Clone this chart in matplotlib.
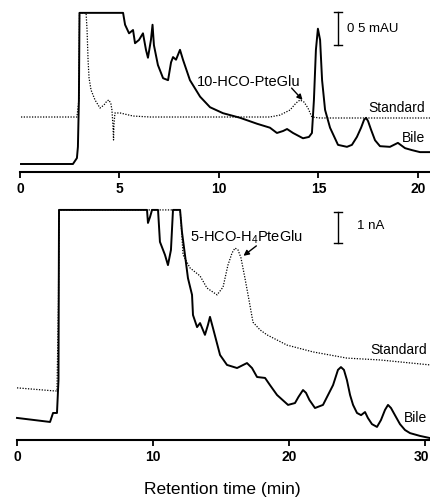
import matplotlib
matplotlib.use("Agg")
import matplotlib.pyplot as plt
import matplotlib.transforms as mtransforms
import numpy as np

plt.rcParams['font.family'] = ['Liberation Sans', 'DejaVu Sans']
plt.rcParams['mathtext.fontset'] = 'custom'
plt.rcParams['mathtext.rm'] = 'Liberation Sans'
plt.rcParams['mathtext.it'] = 'Liberation Sans'

# ---------------- Top panel (UV, mAU) ----------------
top_bile_t = [0.05, 2.66, 2.86, 2.91, 2.96, 2.99, 5.18, 5.28, 5.48, 5.68, 5.78, 5.98, 6.18,
              6.33, 6.43, 6.58, 6.66, 6.73, 6.93, 7.19, 7.44, 7.59, 7.69, 7.84, 8.04, 8.19,
              8.54, 9.05, 9.55, 10.20, 11.06, 11.91, 12.56, 12.91, 13.22, 13.42, 13.72,
              14.22, 14.52, 14.67, 14.77, 14.87, 14.97, 15.08, 15.18, 15.33, 15.58, 15.98,
              16.43, 16.68, 16.93, 17.14, 17.29, 17.39, 17.49, 17.64, 17.84, 18.09, 18.59,
              18.99, 19.35, 19.70, 20.10, 20.70]
top_bile_v = [0.0, 0.0, 0.09, 0.26, 0.97, 2.29, 2.29, 2.11, 1.98, 2.03, 1.83, 1.88, 1.98,
              1.73, 1.61, 1.88, 2.11, 1.80, 1.50, 1.30, 1.27, 1.54, 1.62, 1.58, 1.73, 1.58,
              1.27, 1.02, 0.86, 0.77, 0.70, 0.61, 0.55, 0.47, 0.50, 0.53, 0.47,
              0.39, 0.41, 0.47, 0.97, 1.73, 2.05, 1.88, 1.27, 0.82, 0.55, 0.29,
              0.26, 0.29, 0.41, 0.55, 0.67, 0.70, 0.65, 0.52, 0.36, 0.27, 0.26,
              0.32, 0.24, 0.21, 0.18, 0.18]

top_std_t = [0.05, 2.86, 2.96, 2.99, 3.32, 3.37, 3.42, 3.47, 3.57, 3.77, 4.02, 4.22, 4.37,
             4.47, 4.57, 4.62, 4.67, 4.70, 4.72, 4.77, 5.03, 5.68, 6.53, 12.56, 13.07,
             13.57, 13.87, 14.07, 14.27, 14.47, 14.67, 15.08, 20.60]
top_std_v = [0.712, 0.712, 0.97, 2.29, 2.29, 2.03, 1.576, 1.303, 1.121, 0.97, 0.848, 0.894,
             0.955, 0.97, 0.909, 0.818, 0.591, 0.364, 0.591, 0.773, 0.773, 0.727, 0.712,
             0.712, 0.742, 0.818, 0.924, 0.97, 0.939, 0.848, 0.712, 0.697, 0.697]

top_ticks = [0, 5, 10, 15, 20]

# ---------------- Bottom panel (EC, nA) ----------------
bot_bile_t = [0.0, 2.43, 2.65, 2.94, 3.05, 3.09, 9.56, 9.63, 9.78, 9.93, 10.37, 10.51,
              10.88, 11.10, 11.32, 11.47, 11.99, 12.13, 12.35, 12.57, 12.87, 12.94, 13.24,
              13.46, 13.82, 14.04, 14.19, 14.41, 14.93, 15.44, 16.18, 16.91, 17.28, 17.65,
              18.24, 18.60, 19.12, 19.93, 20.44, 20.70, 21.03, 21.25, 21.50, 21.91, 22.50,
              23.24, 23.60, 23.82, 24.04, 24.26, 24.49, 24.71, 25.00, 25.30, 25.59, 25.80,
              26.10, 26.47, 26.76, 27.06, 27.28, 27.50, 27.79, 28.16, 28.53, 28.90, 29.63,
              30.37]
bot_bile_v = [-0.03, -0.16, 0.13, 0.13, 1.19, 6.68, 6.68, 6.26, 6.45, 6.68, 6.68, 5.65,
              5.23, 4.90, 5.39, 6.68, 6.68, 5.97, 5.23, 4.48, 3.94, 3.29, 2.90,
              3.03, 2.65, 2.97, 3.23, 2.87, 2.00, 1.68, 1.58, 1.74, 1.58, 1.29,
              1.26, 1.03, 0.71, 0.39, 0.45, 0.65, 0.87, 0.78, 0.55, 0.29, 0.39,
              1.03, 1.52, 1.61, 1.52, 1.19, 0.71, 0.39, 0.13, 0.06, 0.16, -0.03,
              -0.23, -0.32, -0.10, 0.23, 0.39, 0.29, 0.06, -0.23, -0.42, -0.52, -0.61,
              -0.68]

bot_std_t = [0.0, 2.79, 2.94, 3.05, 3.09, 11.99, 12.06, 12.21, 12.72, 13.46, 13.97, 14.71,
             15.15, 15.51, 15.81, 16.03, 16.25, 16.47, 16.76, 17.06, 17.35, 17.87, 18.38,
             19.85, 21.76, 24.26, 26.69, 30.37]
bot_std_v = [0.94, 0.84, 0.84, 3.77, 6.68, 6.68, 6.29, 5.23, 4.81, 4.55, 4.16, 3.94,
             4.19, 4.90, 5.29, 5.45, 5.39, 5.13, 4.48, 3.77, 3.06, 2.81, 2.65,
             2.32, 2.10, 1.90, 1.84, 1.68]

bot_ticks = [0, 10, 20, 30]

W, H = 431, 498
fig = plt.figure(figsize=(W / 100, H / 100), dpi=100)


def fx(px):
    return px / W


def fy(py):
    return 1 - py / H


# Top axes: t=0 at px 20, spine at py 172, top at py 5
ax1 = fig.add_axes([fx(20), fy(172), fx(431 - 20), (172 - 5) / H])
ax1.set_xlim(0, (431 - 20) / 19.9)
ax1.set_ylim((164 - 172) / 66, (164 - 5) / 66)

# Bottom axes: t=0 at px 17, spine at py 440, top at py 200
ax2 = fig.add_axes([fx(17), fy(440), fx(431 - 17), (440 - 200) / H])
ax2.set_xlim(0, (431 - 17) / 13.6)
ax2.set_ylim((417 - 440) / 31, (417 - 200) / 31)

for ax, ticks in ((ax1, top_ticks), (ax2, bot_ticks)):
    for s in ('top', 'right', 'left'):
        ax.spines[s].set_visible(False)
    ax.spines['bottom'].set_linewidth(1.5)
    ax.set_yticks([])
    ax.set_xticks(ticks)
    ax.set_xticklabels([str(t) for t in ticks], fontweight='bold', fontsize=10)
    ax.tick_params(axis='x', direction='out', length=4.5, width=1.3, pad=2.5)
    ax.patch.set_visible(False)

# keep the last bottom tick label ("30") inside the figure
last = ax2.get_xticklabels()[-1]
last.set_transform(last.get_transform() +
                   mtransforms.ScaledTranslation(-4 / 100, 0, fig.dpi_scale_trans))

# Top traces
ax1.plot(top_std_t, top_std_v, color='black', lw=0.9, ls=(0, (1, 1.2)), clip_on=False)
ax1.plot(top_bile_t, top_bile_v, color='black', lw=1.4, clip_on=False,
         solid_joinstyle='round')

# Bottom traces
ax2.plot(bot_std_t, bot_std_v, color='black', lw=0.9, ls=(0, (1, 1.2)), clip_on=False)
ax2.plot(bot_bile_t, bot_bile_v, color='black', lw=1.4, clip_on=False,
         solid_joinstyle='round')

# Scale bars
def scale_bar(ax, x, y0, y1, half):
    ax.plot([x, x], [y0, y1], color='black', lw=1.0)
    ax.plot([x - half, x + half], [y0, y0], color='black', lw=1.0)
    ax.plot([x - half, x + half], [y1, y1], color='black', lw=1.0)

scale_bar(ax1, 15.98, 1.80, 2.30, 0.2)
ax1.text(16.43, 2.05, '0 5 mAU', fontsize=9.5, ha='left', va='center')

scale_bar(ax2, 23.6, 5.61, 6.61, 0.29)
ax2.text(25.0, 6.16, '1 nA', fontsize=9.5, ha='left', va='center')

# Labels
ax1.text(8.9, 1.24, '10-HCO-PteGlu', fontsize=10.5, ha='left', va='center')
ax1.annotate('', xy=(14.2, 0.97), xytext=(13.65, 1.15),
             arrowprops=dict(arrowstyle='-|>', color='black', lw=1.0,
                             mutation_scale=8, shrinkA=0, shrinkB=0))
ax1.text(20.35, 0.85, 'Standard', fontsize=10, ha='right', va='center')
ax1.text(20.35, 0.39, 'Bile', fontsize=10, ha='right', va='center')

ax2.text(12.72, 5.81, '5-HCO-H$_4$PteGlu', fontsize=10.5, ha='left', va='center')
ax2.annotate('', xy=(16.65, 5.20), xytext=(17.6, 5.52),
             arrowprops=dict(arrowstyle='-|>', color='black', lw=1.0,
                             mutation_scale=8, shrinkA=0, shrinkB=0))
ax2.text(30.15, 2.16, 'Standard', fontsize=10, ha='right', va='center')
ax2.text(30.15, -0.03, 'Bile', fontsize=10, ha='right', va='center')

fig.text(fx(222), fy(489), 'Retention time (min)', fontsize=12.5, ha='center', va='center')

fig.savefig('out.png', dpi=100)
